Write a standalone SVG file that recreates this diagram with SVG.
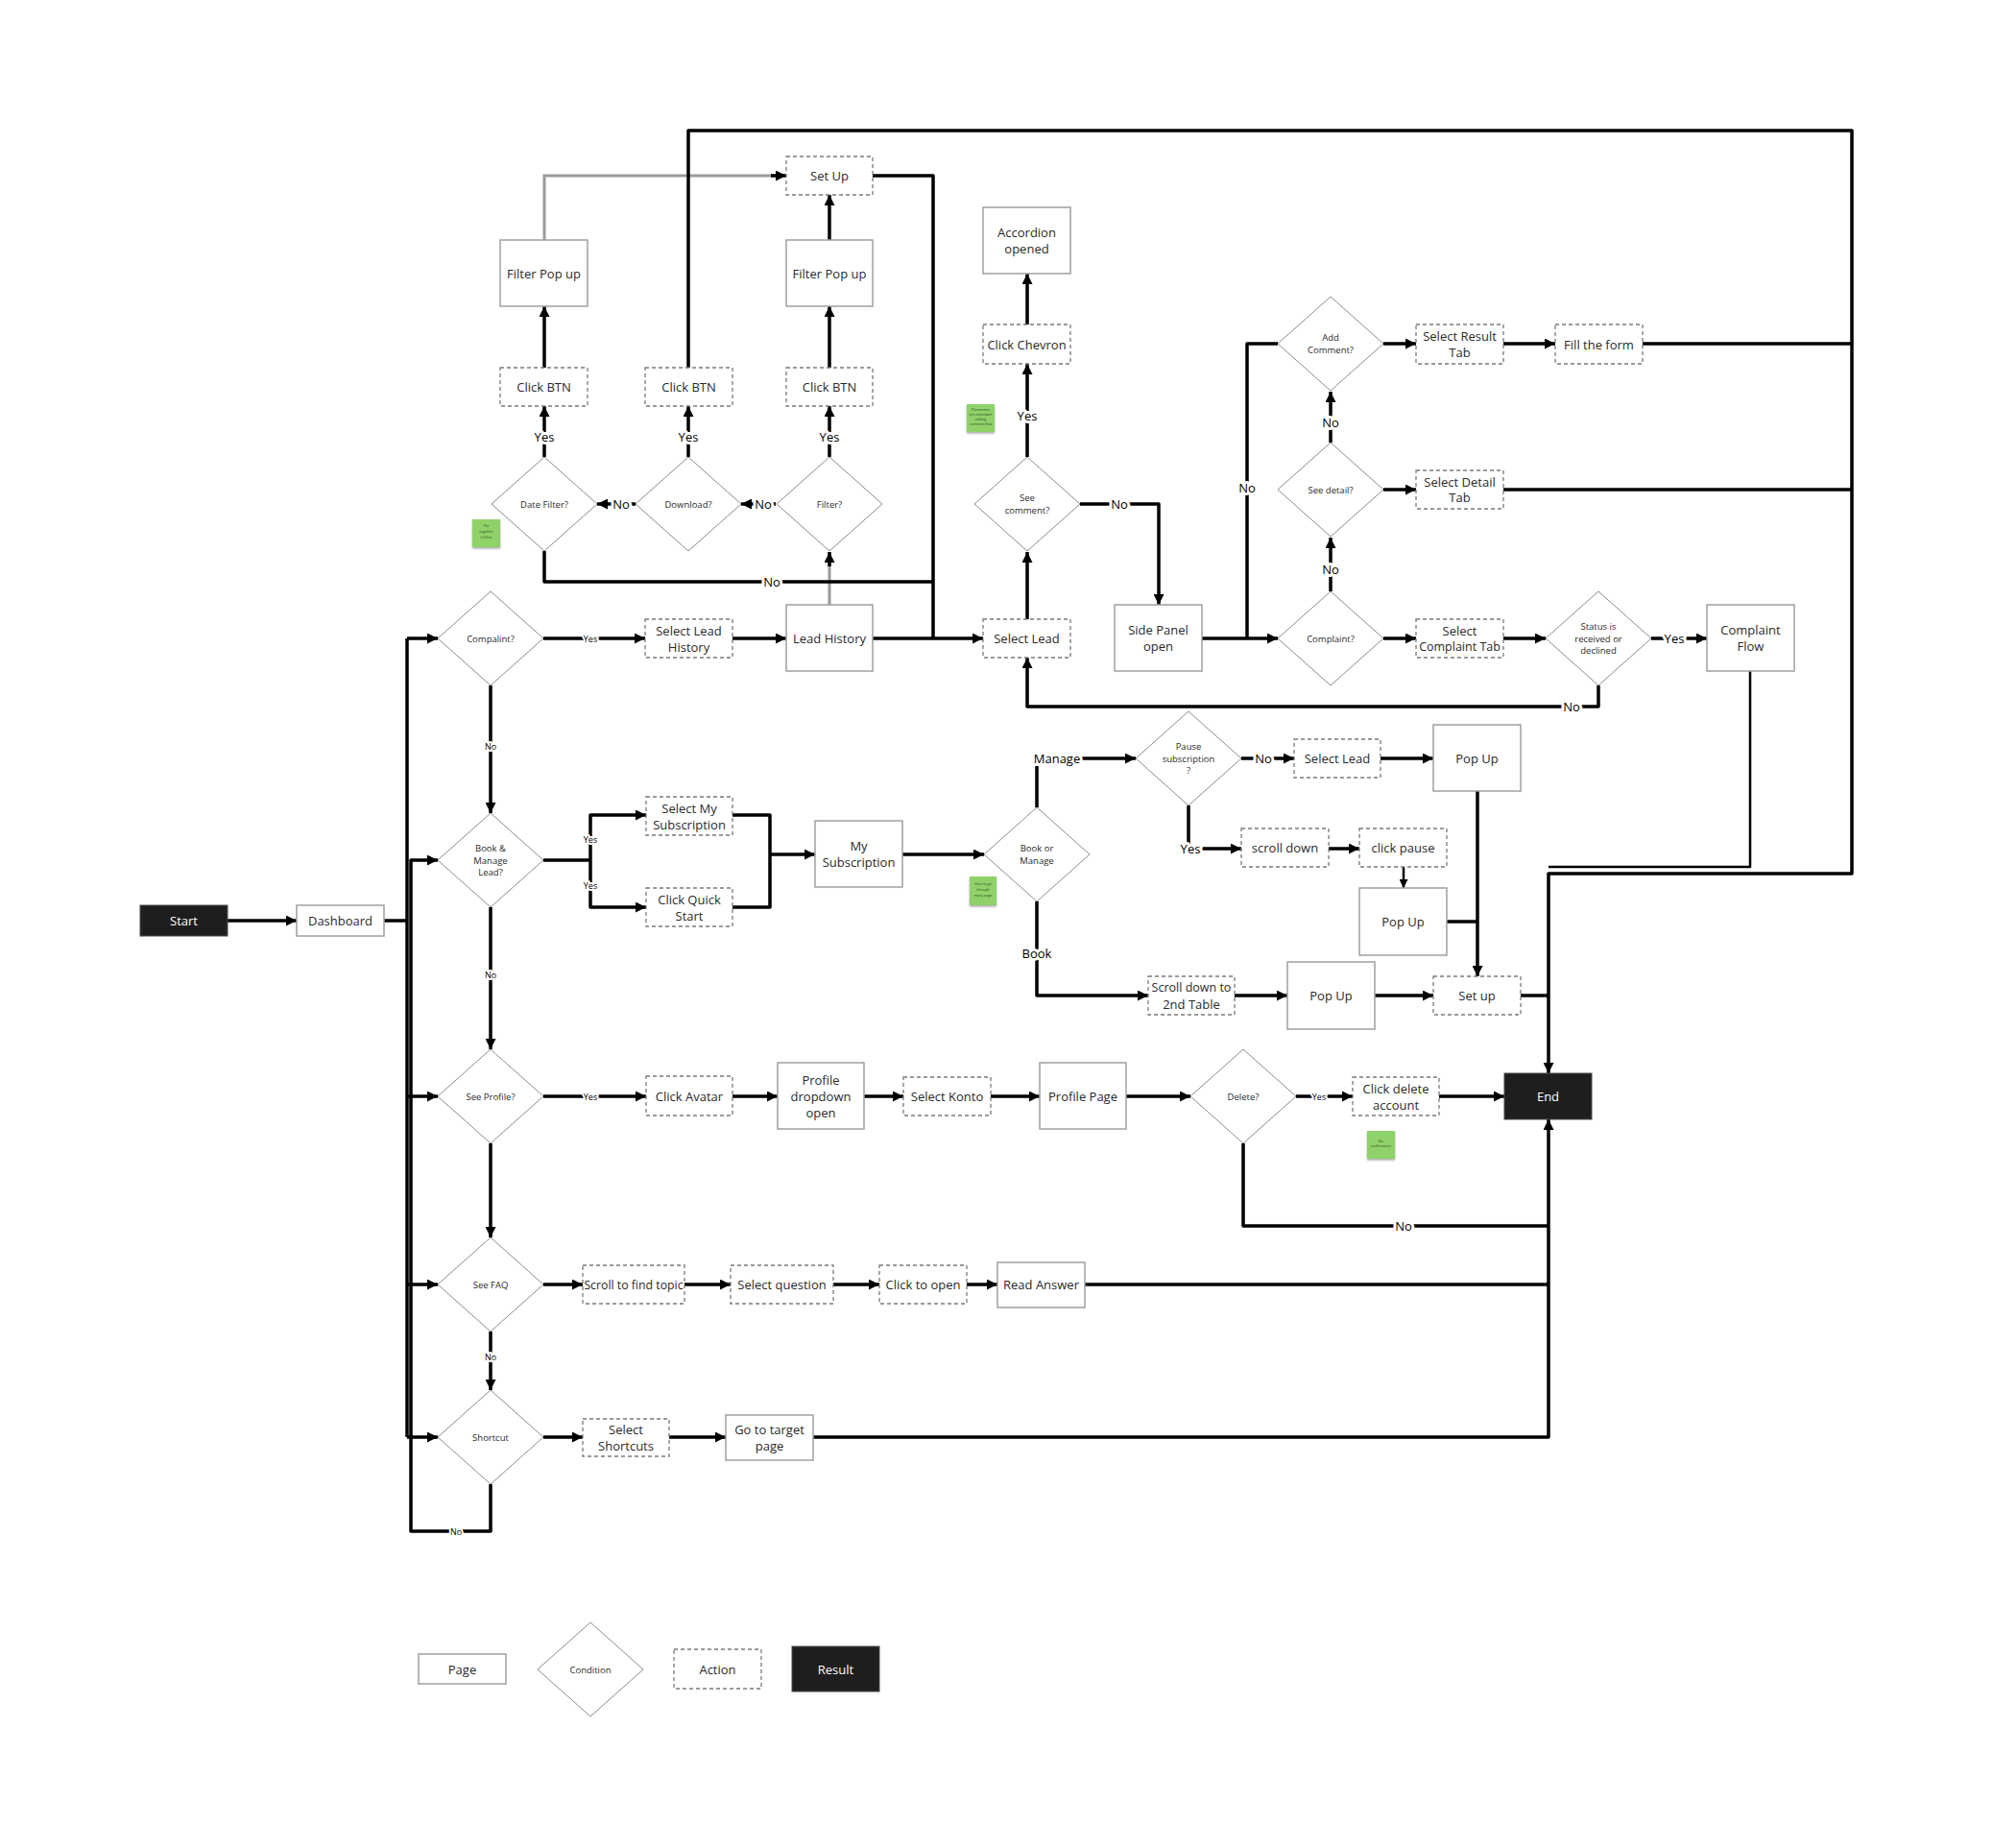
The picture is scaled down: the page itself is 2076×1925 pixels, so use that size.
<svg xmlns="http://www.w3.org/2000/svg" width="2076" height="1925" viewBox="0 0 2076 1925">
<defs>
<marker id="ah" viewBox="0 0 10 10" refX="10" refY="5" markerWidth="12" markerHeight="11" markerUnits="userSpaceOnUse" orient="auto"><path d="M0,0 L10,5 L0,10 z" fill="#000"/></marker>
<marker id="ahs" viewBox="0 0 10 10" refX="10" refY="5" markerWidth="10" markerHeight="9" markerUnits="userSpaceOnUse" orient="auto"><path d="M0,0 L10,5 L0,10 z" fill="#000"/></marker>
<filter id="sh" x="-20%" y="-20%" width="140%" height="150%"><feDropShadow dx="0" dy="1.5" stdDeviation="1" flood-color="#000" flood-opacity="0.35"/></filter>
</defs>
<style>
.page{fill:#fff;stroke:#a0a0a0;stroke-width:1.5}
.action{fill:#fff;stroke:#7a7a7a;stroke-width:1.3;stroke-dasharray:4 3}
.cond{fill:#fff;stroke:#8c8c8c;stroke-width:1}
.result{fill:#1e1e1e;stroke:#4a4a4a;stroke-width:1}
.t{font-family:'Open Sans','Noto Sans','Liberation Sans',sans-serif;font-size:13px;fill:#2a2a2a;text-anchor:middle;dominant-baseline:central}
.d{font-size:9.5px}
.r{fill:#fff;font-size:13px}
.c{fill:none;stroke:#000;stroke-width:3.5;stroke-linejoin:round;stroke-linecap:butt}
.cg{fill:none;stroke:#9a9a9a;stroke-width:3}
.cm{fill:none;stroke:#000;stroke-width:2.5;stroke-linejoin:round}
.a{marker-end:url(#ah)}
.as{marker-end:url(#ahs)}
.l{font-family:'Open Sans','Noto Sans','Liberation Sans',sans-serif;font-size:13px;fill:#000;text-anchor:middle;dominant-baseline:central;stroke:#fff;stroke-width:6px;paint-order:stroke;stroke-linejoin:round}
.ls{font-size:9px;stroke-width:4px}
.note{fill:#8fd26b;filter:url(#sh)}
.nt{font-family:'Open Sans','Noto Sans',sans-serif;font-size:3.6px;fill:#2f4a22;text-anchor:middle}
</style>
<rect width="2076" height="1925" fill="#fff"/>

<g id="connectors">
<path class="c a" d="M237,959 H309"/>
<path class="c" d="M400,959 H424"/>
<path class="c" d="M424,665 V1497"/>
<path class="c a" d="M424,665 H456"/>
<path class="c a" d="M424,1142 H456"/>
<path class="c a" d="M424,1338 H456"/>
<path class="c a" d="M424,1497 H456"/>
<path class="c a" d="M511,1546 V1595 H428 V896 H456"/>
<path class="c a" d="M511,714 V847"/>
<path class="c a" d="M511,945 V1093"/>
<path class="c a" d="M511,1191 V1289"/>
<path class="c a" d="M511,1387 V1448"/>
<path class="c a" d="M566,665 H672"/>
<path class="c a" d="M763,665 H819"/>
<path class="c a" d="M909,665 H1024"/>
<path class="cg" d="M864,630 V588"/>
<path class="c a" d="M864,590 V575"/>
<path class="c a" d="M808,525 H772"/>
<path class="c a" d="M662,525 H622"/>
<path class="c a" d="M567,476 V423"/>
<path class="c a" d="M717,476 V423"/>
<path class="c a" d="M864,476 V423"/>
<path class="c a" d="M567,383 V319"/>
<path class="c a" d="M864,383 V319"/>
<path class="c a" d="M864,250 V203"/>
<path class="cg" d="M567,250 V183 H805"/>
<path class="c a" d="M803,183 H819"/>
<path class="c" d="M909,183 H972 V665"/>
<path class="c" d="M567,574 V606 H972"/>
<path class="c a" d="M717,383 V136 H1929 V910 H1613 V1118"/>
<path class="c a" d="M1070,645 V575"/>
<path class="c a" d="M1070,476 V379"/>
<path class="c a" d="M1070,338 V285"/>
<path class="c a" d="M1125,525 H1207 V630"/>
<path class="c a" d="M1252,665 H1331"/>
<path class="c" d="M1299,665 V358 H1331"/>
<path class="c a" d="M1386,616 V560"/>
<path class="c a" d="M1386,461 V408"/>
<path class="c a" d="M1441,358 H1475"/>
<path class="c a" d="M1566,358 H1620"/>
<path class="c" d="M1711,358 H1929"/>
<path class="c a" d="M1441,510 H1475"/>
<path class="c" d="M1566,510 H1929"/>
<path class="c a" d="M1441,665 H1475"/>
<path class="c a" d="M1566,665 H1610"/>
<path class="c a" d="M1720,665 H1778"/>
<path class="c a" d="M1665,714 V736 H1070 V685"/>
<path class="cm" d="M1823,699 V903 H1613"/>
<path class="c" d="M566,896 H615"/>
<path class="c a" d="M615,896 V849 H673"/>
<path class="c a" d="M615,896 V945 H673"/>
<path class="c" d="M763,849 H802 V945 H763"/>
<path class="c a" d="M802,890 H849"/>
<path class="c a" d="M940,890 H1025"/>
<path class="c a" d="M1080,841 V790 H1183"/>
<path class="c a" d="M1293,790 H1348"/>
<path class="c a" d="M1438,790 H1493"/>
<path class="c a" d="M1238,839 V884 H1293"/>
<path class="c a" d="M1384,884 H1416"/>
<path class="cm as" d="M1462,903 V925"/>
<path class="c a" d="M1539,824 V1017"/>
<path class="c" d="M1507,960 H1539"/>
<path class="c a" d="M1080,939 V1037 H1196"/>
<path class="c a" d="M1286,1037 H1341"/>
<path class="c a" d="M1432,1037 H1493"/>
<path class="c" d="M1584,1037 H1613"/>
<path class="c a" d="M566,1142 H673"/>
<path class="c a" d="M763,1142 H810"/>
<path class="c a" d="M900,1142 H941"/>
<path class="c a" d="M1032,1142 H1083"/>
<path class="c a" d="M1173,1142 H1240"/>
<path class="c a" d="M1350,1142 H1409"/>
<path class="c a" d="M1499,1142 H1567"/>
<path class="c" d="M1295,1191 V1277 H1613"/>
<path class="c a" d="M566,1338 H607"/>
<path class="c a" d="M713,1338 H761"/>
<path class="c a" d="M868,1338 H916"/>
<path class="c a" d="M1007,1338 H1039"/>
<path class="c" d="M1130,1338 H1613"/>
<path class="c a" d="M566,1497 H607"/>
<path class="c a" d="M697,1497 H756"/>
<path class="c a" d="M847,1497 H1613 V1166"/>
<text class="l" x="567" y="455">Yes</text>
<text class="l" x="717" y="455">Yes</text>
<text class="l" x="864" y="455">Yes</text>
<text class="l" x="647" y="525">No</text>
<text class="l" x="795" y="525">No</text>
<text class="l" x="804" y="606">No</text>
<text class="l" x="1070" y="433">Yes</text>
<text class="l" x="1166" y="525">No</text>
<text class="l" x="1299" y="508">No</text>
<text class="l" x="1386" y="593">No</text>
<text class="l" x="1386" y="440">No</text>
<text class="l" x="1744" y="665">Yes</text>
<text class="l" x="1637" y="736">No</text>
<text class="l ls" x="615" y="665">Yes</text>
<text class="l ls" x="511" y="777">No</text>
<text class="l ls" x="615" y="874">Yes</text>
<text class="l ls" x="615" y="922">Yes</text>
<text class="l ls" x="511" y="1015">No</text>
<text class="l ls" x="615" y="1142">Yes</text>
<text class="l ls" x="511" y="1413">No</text>
<text class="l ls" x="475" y="1595">No</text>
<text class="l" x="1101" y="790">Manage</text>
<text class="l" x="1316" y="790">No</text>
<text class="l" x="1240" y="884">Yes</text>
<text class="l" x="1080" y="993">Book</text>
<text class="l ls" x="1374" y="1142">Yes</text>
<text class="l" x="1462" y="1277">No</text>
</g>

<g id="n-start"><rect class="result" x="146" y="943" width="91" height="32"/><text class="t r" x="191.5" y="959">Start</text></g>
<g id="n-end"><rect class="result" x="1567" y="1118" width="91" height="48"/><text class="t r" x="1612.5" y="1142">End</text></g>

<g id="n-dashboard"><rect class="page" x="309" y="943" width="91" height="32"/><text class="t" x="354.5" y="959">Dashboard</text></g>
<g id="n-filterpopup1"><rect class="page" x="521" y="250" width="91" height="69"/><text class="t" x="566.5" y="284.5">Filter Pop up</text></g>
<g id="n-filterpopup2"><rect class="page" x="819" y="250" width="90" height="69"/><text class="t" x="864" y="284.5">Filter Pop up</text></g>
<g id="n-leadhistory"><rect class="page" x="819" y="630" width="90" height="69"/><text class="t" x="864" y="665">Lead History</text></g>
<g id="n-accordion"><rect class="page" x="1024" y="216" width="91" height="69"/><text class="t" x="1069.5" y="242">Accordion</text><text class="t" x="1069.5" y="259">opened</text></g>
<g id="n-sidepanel"><rect class="page" x="1161" y="630" width="91" height="69"/><text class="t" x="1206.5" y="656">Side Panel</text><text class="t" x="1206.5" y="673">open</text></g>
<g id="n-complaintflow"><rect class="page" x="1778" y="630" width="91" height="69"/><text class="t" x="1823.5" y="656">Complaint</text><text class="t" x="1823.5" y="673">Flow</text></g>
<g id="n-mysubscription"><rect class="page" x="849" y="855" width="91" height="69"/><text class="t" x="894.5" y="881">My</text><text class="t" x="894.5" y="898">Subscription</text></g>
<g id="n-popup1"><rect class="page" x="1493" y="755" width="91" height="69"/><text class="t" x="1538.5" y="790">Pop Up</text></g>
<g id="n-popup2"><rect class="page" x="1416" y="925" width="91" height="70"/><text class="t" x="1461.5" y="960">Pop Up</text></g>
<g id="n-popup3"><rect class="page" x="1341" y="1002" width="91" height="70"/><text class="t" x="1386.5" y="1037">Pop Up</text></g>
<g id="n-profiledropdown"><rect class="page" x="810" y="1107" width="90" height="69"/><text class="t" x="855" y="1125">Profile</text><text class="t" x="855" y="1142">dropdown</text><text class="t" x="855" y="1159">open</text></g>
<g id="n-profilepage"><rect class="page" x="1083" y="1107" width="90" height="69"/><text class="t" x="1128" y="1142">Profile Page</text></g>
<g id="n-readanswer"><rect class="page" x="1039" y="1315" width="91" height="47"/><text class="t" x="1084.5" y="1338">Read Answer</text></g>
<g id="n-gototarget"><rect class="page" x="756" y="1474" width="91" height="47"/><text class="t" x="801.5" y="1489">Go to target</text><text class="t" x="801.5" y="1506">page</text></g>

<g id="n-setup1"><rect class="action" x="819" y="163" width="90" height="40"/><text class="t" x="864" y="183">Set Up</text></g>
<g id="n-clickbtn1"><rect class="action" x="521" y="383" width="91" height="40"/><text class="t" x="566.5" y="403">Click BTN</text></g>
<g id="n-clickbtn2"><rect class="action" x="672" y="383" width="91" height="40"/><text class="t" x="717.5" y="403">Click BTN</text></g>
<g id="n-clickbtn3"><rect class="action" x="819" y="383" width="90" height="40"/><text class="t" x="864" y="403">Click BTN</text></g>
<g id="n-selectleadhistory"><rect class="action" x="672" y="645" width="91" height="40"/><text class="t" x="717.5" y="656.5">Select Lead</text><text class="t" x="717.5" y="673.5">History</text></g>
<g id="n-clickchevron"><rect class="action" x="1024" y="338" width="91" height="41"/><text class="t" x="1069.5" y="358.5">Click Chevron</text></g>
<g id="n-selectlead1"><rect class="action" x="1024" y="645" width="91" height="40"/><text class="t" x="1069.5" y="665">Select Lead</text></g>
<g id="n-selectresult"><rect class="action" x="1475" y="338" width="91" height="41"/><text class="t" x="1520.5" y="350">Select Result</text><text class="t" x="1520.5" y="367">Tab</text></g>
<g id="n-fillform"><rect class="action" x="1620" y="338" width="91" height="41"/><text class="t" x="1665.5" y="358.5">Fill the form</text></g>
<g id="n-selectdetail"><rect class="action" x="1475" y="490" width="91" height="40"/><text class="t" x="1520.5" y="502">Select Detail</text><text class="t" x="1520.5" y="518">Tab</text></g>
<g id="n-selectcomplainttab"><rect class="action" x="1475" y="645" width="91" height="40"/><text class="t" x="1520.5" y="656.5">Select</text><text class="t" x="1520.5" y="673.5" style="font-size:12.5px">Complaint Tab</text></g>
<g id="n-selectmysub"><rect class="action" x="673" y="830" width="90" height="40"/><text class="t" x="718" y="841.5">Select My</text><text class="t" x="718" y="858.5">Subscription</text></g>
<g id="n-clickquickstart"><rect class="action" x="673" y="925" width="90" height="40"/><text class="t" x="718" y="936.5">Click Quick</text><text class="t" x="718" y="953.5">Start</text></g>
<g id="n-selectlead2"><rect class="action" x="1348" y="770" width="90" height="40"/><text class="t" x="1393" y="790">Select Lead</text></g>
<g id="n-scrolldown"><rect class="action" x="1293" y="863" width="91" height="40"/><text class="t" x="1338.5" y="883">scroll down</text></g>
<g id="n-clickpause"><rect class="action" x="1416" y="863" width="91" height="40"/><text class="t" x="1461.5" y="883">click pause</text></g>
<g id="n-scroll2nd"><rect class="action" x="1196" y="1017" width="90" height="40"/><text class="t" x="1241" y="1028.5" style="font-size:12.5px">Scroll down to</text><text class="t" x="1241" y="1045.5">2nd Table</text></g>
<g id="n-setup2"><rect class="action" x="1493" y="1017" width="91" height="40"/><text class="t" x="1538.5" y="1037">Set up</text></g>
<g id="n-clickavatar"><rect class="action" x="673" y="1121" width="90" height="41"/><text class="t" x="718" y="1141.5">Click Avatar</text></g>
<g id="n-selectkonto"><rect class="action" x="941" y="1122" width="91" height="40"/><text class="t" x="986.5" y="1142">Select Konto</text></g>
<g id="n-clickdelete"><rect class="action" x="1409" y="1122" width="90" height="40"/><text class="t" x="1454" y="1133.5">Click delete</text><text class="t" x="1454" y="1150.5">account</text></g>
<g id="n-scrolltopic"><rect class="action" x="607" y="1318" width="106" height="40"/><text class="t" x="660" y="1338" style="font-size:12.3px">Scroll to find topic</text></g>
<g id="n-selectquestion"><rect class="action" x="761" y="1318" width="107" height="40"/><text class="t" x="814.5" y="1338">Select question</text></g>
<g id="n-clicktoopen"><rect class="action" x="916" y="1318" width="91" height="40"/><text class="t" x="961.5" y="1338">Click to open</text></g>
<g id="n-selectshortcuts"><rect class="action" x="607" y="1478" width="90" height="39"/><text class="t" x="652" y="1489">Select</text><text class="t" x="652" y="1506">Shortcuts</text></g>

<g id="n-datefilter"><polygon class="cond" points="567,476 622,525 567,574 512,525"/><text class="t d" x="567" y="525">Date Filter?</text></g>
<g id="n-download"><polygon class="cond" points="717,476 772,525 717,574 662,525"/><text class="t d" x="717" y="525">Download?</text></g>
<g id="n-filter"><polygon class="cond" points="864,476 919,525 864,574 809,525"/><text class="t d" x="864" y="525">Filter?</text></g>
<g id="n-compalint"><polygon class="cond" points="511,616 566,665 511,714 456,665"/><text class="t d" x="511" y="665">Compalint?</text></g>
<g id="n-seecomment"><polygon class="cond" points="1070,476 1125,525 1070,574 1015,525"/><text class="t d" x="1070" y="518.5">See</text><text class="t d" x="1070" y="531.5">comment?</text></g>
<g id="n-addcomment"><polygon class="cond" points="1386,309 1441,358 1386,407 1331,358"/><text class="t d" x="1386" y="351.5">Add</text><text class="t d" x="1386" y="364.5">Comment?</text></g>
<g id="n-seedetail"><polygon class="cond" points="1386,461 1441,510 1386,559 1331,510"/><text class="t d" x="1386" y="510">See detail?</text></g>
<g id="n-complaint"><polygon class="cond" points="1386,616 1441,665 1386,714 1331,665"/><text class="t d" x="1386" y="665">Complaint?</text></g>
<g id="n-status"><polygon class="cond" points="1665,616 1720,665 1665,714 1610,665"/><text class="t d" x="1665" y="652.5">Status is</text><text class="t d" x="1665" y="665">received or</text><text class="t d" x="1665" y="677.5">declined</text></g>
<g id="n-bookmanagelead"><polygon class="cond" points="511,847 566,896 511,945 456,896"/><text class="t d" x="511" y="883.5">Book &amp;</text><text class="t d" x="511" y="896">Manage</text><text class="t d" x="511" y="908.5">Lead?</text></g>
<g id="n-bookormanage"><polygon class="cond" points="1080,841 1135,890 1080,939 1025,890"/><text class="t d" x="1080" y="883.5">Book or</text><text class="t d" x="1080" y="896.5">Manage</text></g>
<g id="n-pause"><polygon class="cond" points="1238,741 1293,790 1238,839 1183,790"/><text class="t d" x="1238" y="777.5">Pause</text><text class="t d" x="1238" y="790">subscription</text><text class="t d" x="1238" y="802.5">?</text></g>
<g id="n-seeprofile"><polygon class="cond" points="511,1093 566,1142 511,1191 456,1142"/><text class="t d" x="511" y="1142">See Profile?</text></g>
<g id="n-delete"><polygon class="cond" points="1295,1093 1350,1142 1295,1191 1240,1142"/><text class="t d" x="1295" y="1142">Delete?</text></g>
<g id="n-seefaq"><polygon class="cond" points="511,1289 566,1338 511,1387 456,1338"/><text class="t d" x="511" y="1338">See FAQ</text></g>
<g id="n-shortcut"><polygon class="cond" points="511,1448 566,1497 511,1546 456,1497"/><text class="t d" x="511" y="1497">Shortcut</text></g>

<g id="note-filter"><rect class="note" x="492" y="541" width="29" height="29"/><text class="nt" x="506.5" y="549">Put</text><text class="nt" x="506.5" y="555">together</text><text class="nt" x="506.5" y="561">in Filter</text></g>
<g id="note-comment"><rect class="note" x="1007" y="421" width="29" height="29"/><text class="nt" x="1021.5" y="428">Placements</text><text class="nt" x="1021.5" y="433">are redundant</text><text class="nt" x="1021.5" y="438">adding</text><text class="nt" x="1021.5" y="443">comment flow</text></g>
<g id="note-manypage"><rect class="note" x="1010" y="913" width="28" height="30"/><text class="nt" x="1024" y="922">Have to go</text><text class="nt" x="1024" y="928">through</text><text class="nt" x="1024" y="934">many page</text></g>
<g id="note-delete"><rect class="note" x="1424" y="1178" width="29" height="29"/><text class="nt" x="1438.5" y="1190">No</text><text class="nt" x="1438.5" y="1195">confirmation</text></g>

<g id="legend-page"><rect class="page" x="436" y="1723" width="91" height="31"/><text class="t" x="481.5" y="1738.5">Page</text></g>
<g id="legend-condition"><polygon class="cond" points="615,1690 670,1739 615,1788 560,1739"/><text class="t d" x="615" y="1739">Condition</text></g>
<g id="legend-action"><rect class="action" x="702" y="1718" width="91" height="41"/><text class="t" x="747.5" y="1738.5">Action</text></g>
<g id="legend-result"><rect class="result" x="825" y="1715" width="91" height="47"/><text class="t r" x="870.5" y="1738.5">Result</text></g>
</svg>
